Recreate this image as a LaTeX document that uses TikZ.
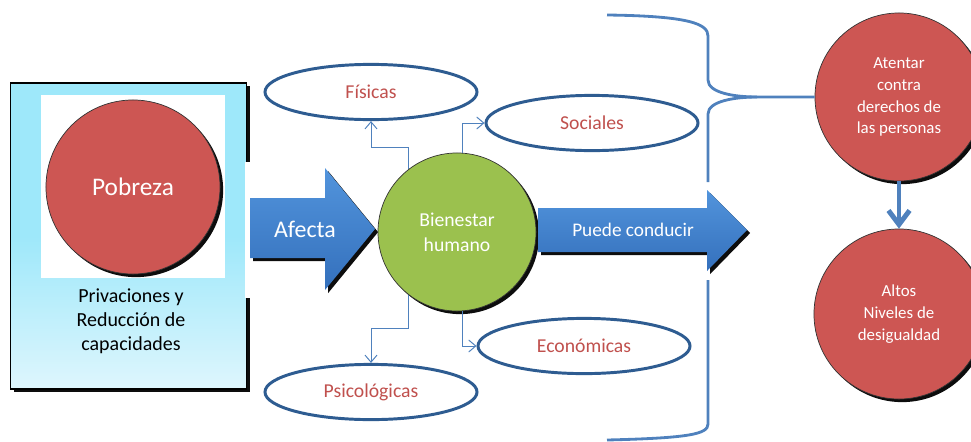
\documentclass[tikz,border=0pt]{standalone}
\usepackage{fontspec}
\setmainfont{Carlito}
\usepackage{tikz}
\usetikzlibrary{arrows.meta,shapes.geometric,shadows}

\definecolor{rojo}{RGB}{205,86,83}
\definecolor{verde}{RGB}{155,193,78}
\definecolor{azul}{RGB}{52,112,188}
\definecolor{azulclaro}{RGB}{82,148,220}
\definecolor{linea}{RGB}{79,129,189}
\definecolor{borde}{RGB}{46,92,145}
\definecolor{textorojo}{RGB}{192,80,77}
\definecolor{cieloarriba}{RGB}{158,232,250}
\definecolor{cieloabajo}{RGB}{222,246,253}

\tikzset{
  sombra/.style = {drop shadow={shadow xshift=2.2pt, shadow yshift=-2.2pt, fill=black, opacity=0.95}},
  bola/.style = {circle, draw=black!80, line width=0.5pt, sombra, text=white, align=center},
  burbuja/.style = {ellipse, draw=borde, line width=2.1pt, fill=white, text=textorojo,
    minimum width=5.3cm, minimum height=1.38cm, font=\fontsize{14}{17}\selectfont},
  enlace/.style = {draw=linea, line width=0.7pt, -{Straight Barb[length=5pt,width=8.5pt]}},
  flecha/.style = {top color=azulclaro, bottom color=azul, sombra},
  llave/.style = {draw=linea, line width=2pt}
}

\begin{document}
\begin{tikzpicture}[x=0.025cm, y=-0.025cm]
\useasboundingbox (0,0) rectangle (971,441);
\clip (0,0) rectangle (971,441);

% recuadro de la pobreza
\node (marco) [draw=black, line width=1.2pt, sombra, top color=cieloarriba,
  bottom color=cieloabajo, middle color=cieloarriba,
  minimum width=5.9cm, minimum height=7.65cm] at (128.5,236) {};
\node (blanco) [fill=white, minimum width=4.6cm, minimum height=4.58cm] at (133,186.5) {};
\node (pob) [bola, fill=rojo, minimum size=4.35cm, font=\fontsize{18}{21}\selectfont] at (133,187) {Pobreza};
\node (priv) [align=center, font=\fontsize{14.2}{17}\selectfont] at (131,321)
  {Privaciones y\\Reducción de\\capacidades};

% flecha afecta
\fill[white] (245,162) rectangle (380,298);
\path[flecha] (250,198) -- (325,198) -- (325,168) -- (375,229) -- (325,290) -- (325,258) -- (250,258) -- cycle;
\node (afe) [text=white, font=\fontsize{17}{20}\selectfont] at (305,229) {Afecta};

% bienestar y sus dimensiones
\node (hum) [bola, fill=verde, minimum size=3.95cm, font=\fontsize{14}{17.8}\selectfont] at (457,232) {Bienestar\\humano};

\node (fis) [burbuja] at (371,92) {Físicas};
\node (soc) [burbuja] at (592,123) {Sociales};
\node (eco) [burbuja] at (584,346) {Económicas};
\node (psi) [burbuja] at (371,392) {Psicológicas};

\draw[enlace] (hum.128) -- ++(0,-22) -| (fis.south);
\draw[enlace] (hum.86) |- (soc.west);
\draw[enlace] (hum.232) -- ++(0,34) -| (psi.north);
\draw[enlace] (hum.274) |- (eco.west);

% flecha puede conducir
\path[flecha] (538,208) -- (707,208) -- (707,190) -- (747,230) -- (707,271) -- (707,252) -- (538,252) -- cycle;
\node (pue) [text=white, font=\fontsize{13.7}{16}\selectfont] at (633,230) {Puede conducir};

% consecuencias
\node (atn) [bola, fill=rojo, minimum size=4.2cm, font=\fontsize{12}{15.6}\selectfont] at (899,97)
  {Atentar\\contra\\derechos de\\las personas};
\node (alt) [bola, fill=rojo, minimum size=4.25cm, font=\fontsize{12}{15.6}\selectfont] at (899,314)
  {Altos\\Niveles de\\desigualdad};
\draw[draw=linea, line width=3.5pt, -{Straight Barb[length=10pt,width=15pt]}] (atn.south) -- (alt.north);

% llave
\draw[llave] (607,15) .. controls (690,16) and (708,24) .. (708,36) -- (708,80)
  .. controls (708,93) and (735,97) .. (757,97) -- (atn.west);
\draw[llave] (757,97) .. controls (735,97) and (708,101) .. (708,114) -- (708,182);
\draw[llave] (708,280) -- (708,424) .. controls (708,434) and (690,438) .. (607,440);

\end{tikzpicture}
\end{document}
